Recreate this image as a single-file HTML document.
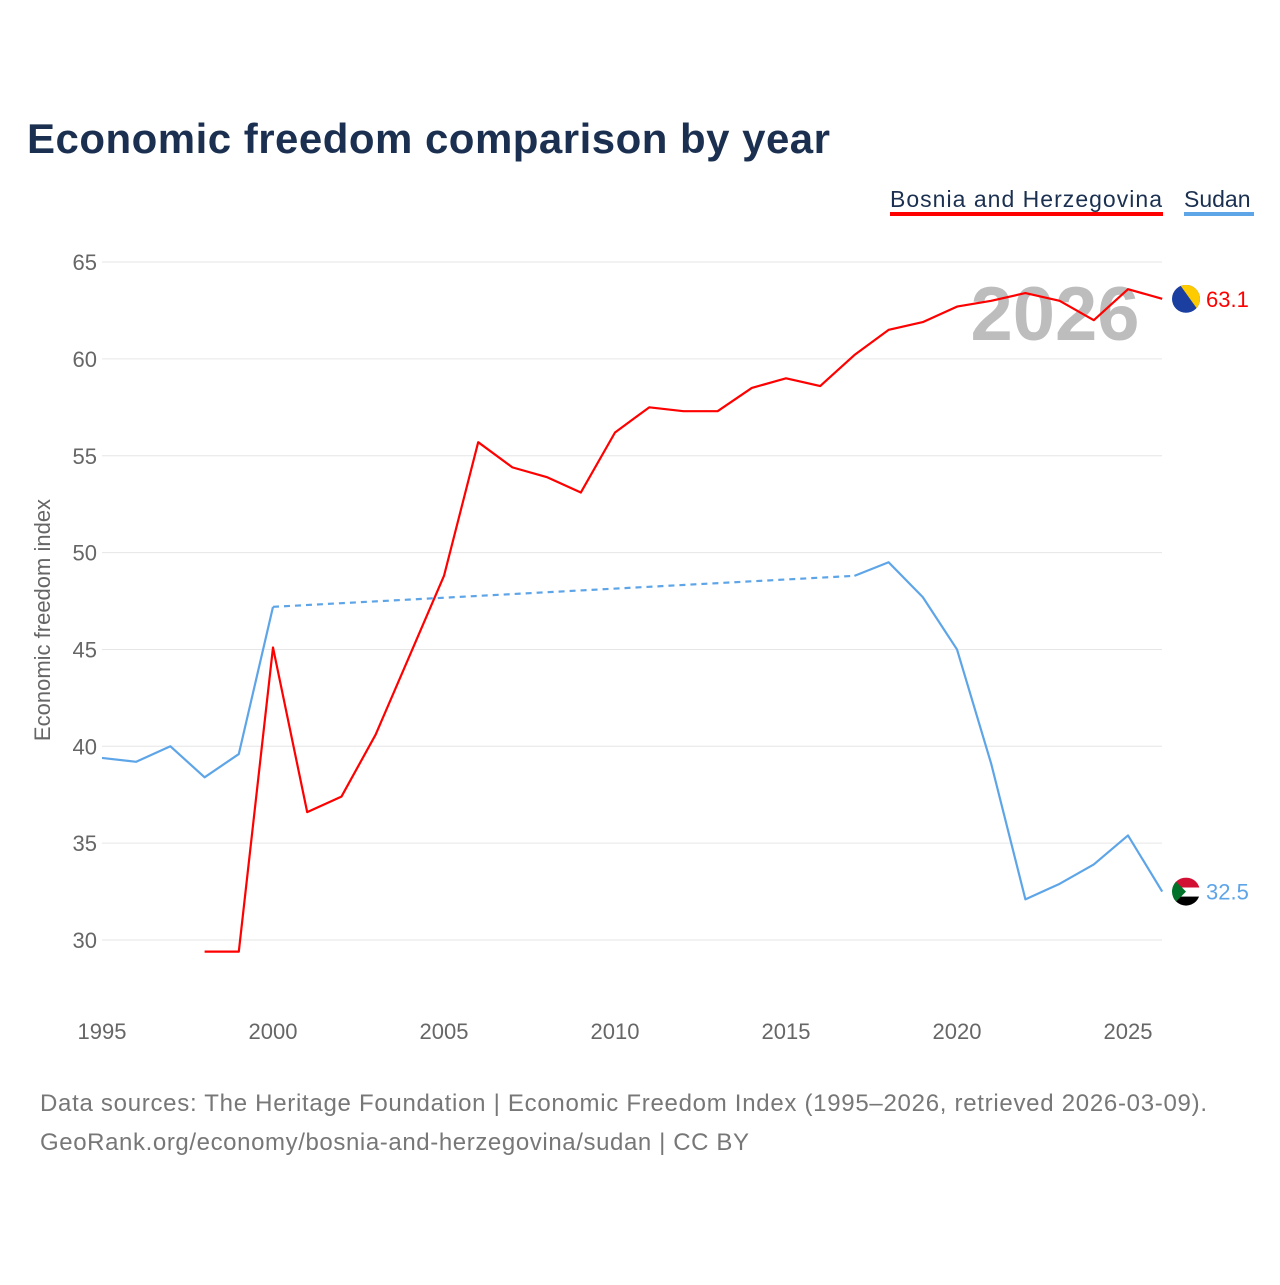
<!DOCTYPE html>
<html><head><meta charset="utf-8"><style>
body{margin:0;background:#fff;font-family:"Liberation Sans",sans-serif;}
svg text{font-family:"Liberation Sans",sans-serif;}
</style></head><body>
<svg id="chart" width="1280" height="1280" viewBox="0 0 1280 1280">
<text x="27" y="153" font-size="42" font-weight="bold" fill="#1b3050" textLength="803">Economic freedom comparison by year</text>
<g>
<text x="890" y="207" font-size="23" fill="#1b3050" textLength="272">Bosnia and Herzegovina</text>
<rect x="890" y="212" width="273" height="4" fill="#ff0000"/>
<text x="1184" y="207" font-size="23" fill="#1b3050">Sudan</text>
<rect x="1184" y="212" width="70" height="4" fill="#5ea5e8"/>
</g>
<text x="1055" y="340" font-size="76" font-weight="bold" fill="#bdbdbd" text-anchor="middle">2026</text>
<g id="grid"></g>
<g id="xaxis"></g>
<text transform="translate(50,620) rotate(-90)" font-size="22" fill="#666" text-anchor="middle">Economic freedom index</text>
<g id="series"></g>
<g>
<text x="40" y="1111" font-size="24" fill="#777" textLength="1167">Data sources: The Heritage Foundation | Economic Freedom Index (1995–2026, retrieved 2026-03-09).</text>
<text x="40" y="1150" font-size="24" fill="#777" textLength="709">GeoRank.org/economy/bosnia-and-herzegovina/sudan | CC BY</text>
</g>
</svg>
<script>
const years=[1995,1996,1997,1998,1999,2000,2001,2002,2003,2004,2005,2006,2007,2008,2009,2010,2011,2012,2013,2014,2015,2016,2017,2018,2019,2020,2021,2022,2023,2024,2025,2026];
const bosnia=[null,null,null,29.4,29.4,45.1,36.6,37.4,40.6,44.7,48.8,55.7,54.4,53.9,53.1,56.2,57.5,57.3,57.3,58.5,59.0,58.6,60.2,61.5,61.9,62.7,63.0,63.4,63.0,62.0,63.6,63.1];
const sudan=[39.4,39.2,40.0,38.4,39.6,47.2,null,null,null,null,null,null,null,null,null,null,null,null,null,null,null,null,48.8,49.5,47.7,45.0,39.1,32.1,32.9,33.9,35.4,32.5];
const yTicks=[30,35,40,45,50,55,60,65];
const xTicks=[1995,2000,2005,2010,2015,2020,2025];
const NS="http://www.w3.org/2000/svg";
const X=y=>102+(y-1995)*34.2;
const Y=v=>940-(v-30)*19.37;
function mk(t,a,p){const e=document.createElementNS(NS,t);for(const k in a)e.setAttribute(k,a[k]);p.appendChild(e);return e;}
const grid=document.getElementById('grid');
yTicks.forEach(v=>{
 const l=mk('line',{x1:102,x2:1162,y1:Y(v),y2:Y(v),stroke:'#e6e6e6','stroke-width':1},grid);
 
 
 const t=mk('text',{x:97,y:Y(v)+8,'font-size':22,fill:'#666','text-anchor':'end'},grid);
 t.textContent=v;
 
 
});
const xa=document.getElementById('xaxis');
xTicks.forEach(y=>{
 const t=mk('text',{x:X(y),y:1039,'font-size':22,fill:'#666','text-anchor':'middle'},xa);
 t.textContent=y;
 
 
});
const sg=document.getElementById('series');
function draw(vals,color,name){
 let seg=[],segs=[];
 vals.forEach((v,i)=>{if(v==null){if(seg.length)segs.push(seg);seg=[];}else seg.push([X(years[i]),Y(v)]);});
 if(seg.length)segs.push(seg);
 segs.forEach((s,k)=>{
  const p=mk('polyline',{points:s.map(q=>q.join(',')).join(' '),fill:'none',stroke:color,'stroke-width':2.2,'stroke-linejoin':'round'},sg);
  
  
  if(k>0){const a=segs[k-1][segs[k-1].length-1],b=s[0];
   const d=mk('line',{x1:a[0],y1:a[1],x2:b[0],y2:b[1],stroke:color,'stroke-width':2.2,'stroke-dasharray':'6,5'},sg);
   
   }
 });
}
draw(bosnia,'#ff0000','bosnia');
draw(sudan,'#5ea5e8','sudan');
function flag(v,color,name,kind){
 const cy=Y(v),cx=1186;
 const g=mk('g',{},sg);
 
 
 const cp=mk('clipPath',{id:'c'+name},g);mk('circle',{cx:cx,cy:cy,r:14},cp);
 const h=mk('g',{'clip-path':'url(#c'+name+')'},g);
 if(kind==='b'){mk('rect',{x:cx-14,y:cy-14,width:28,height:28,fill:'#1a3fa0'},h);mk('polygon',{points:`${cx-6},${cy-14} ${cx+14},${cy-14} ${cx+14},${cy+14}`,fill:'#fecb00'},h);}
 else{mk('rect',{x:cx-14,y:cy-14,width:28,height:10,fill:'#d21034'},h);mk('rect',{x:cx-14,y:cy-4,width:28,height:9,fill:'#fff'},h);mk('rect',{x:cx-14,y:cy+5,width:28,height:10,fill:'#000'},h);mk('polygon',{points:`${cx-14},${cy-14} ${cx},${cy} ${cx-14},${cy+14}`,fill:'#007229'},h);}
 const t=mk('text',{x:1206,y:cy+8,'font-size':22,fill:color},sg);
 t.textContent=v.toFixed(1);
 
 
}
flag(bosnia[bosnia.length-1],'#ff0000','bosnia','b');
flag(sudan[sudan.length-1],'#5ea5e8','sudan','s');
</script>
</body></html>
